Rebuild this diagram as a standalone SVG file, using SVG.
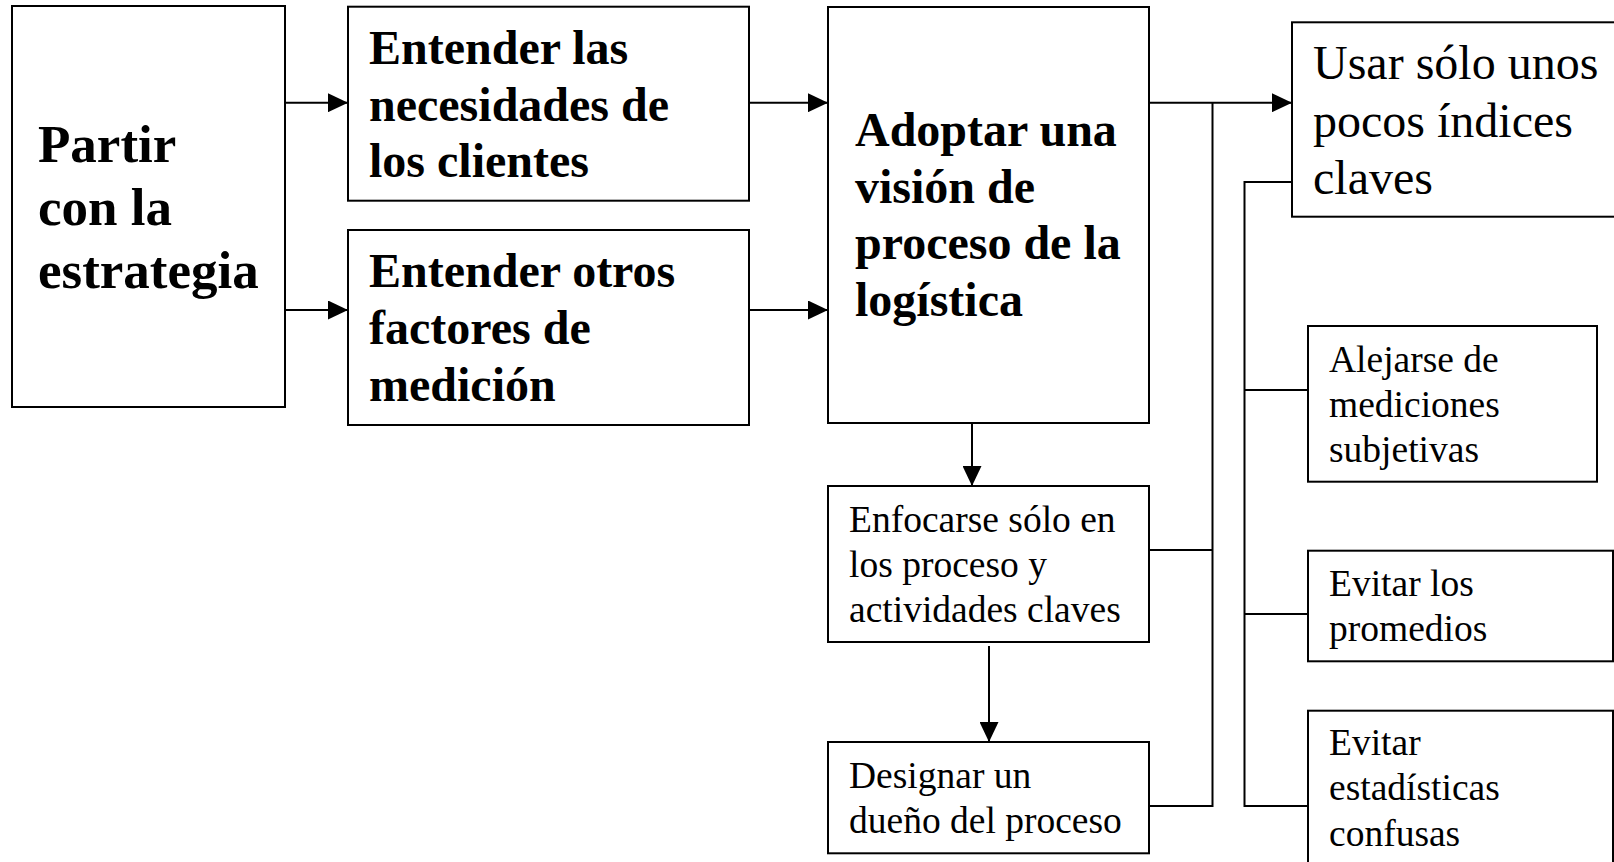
<svg xmlns="http://www.w3.org/2000/svg" width="1614" height="862" viewBox="0 0 1614 862">
<style>
rect.box{fill:#fff;stroke:#000;stroke-width:2}
.c{fill:none;stroke:#000;stroke-width:2}
text{font-family:"Liberation Serif","Times New Roman",serif;fill:#000}
.b52{font-weight:bold;font-size:53px}
.b48{font-weight:bold;font-size:48px}
.r48{font-size:48px}
.r38{font-size:37.5px}
</style>
<defs>
<marker id="ah" markerUnits="userSpaceOnUse" markerWidth="20" markerHeight="19" refX="20" refY="9.5" orient="auto">
<path d="M0,0 L20,9.5 L0,19 z" fill="#000"/>
</marker>
</defs>
<rect width="1614" height="862" fill="#fff"/>
<g id="connectors">
<path class="c" d="M285,102.7 H348" marker-end="url(#ah)"/>
<path class="c" d="M285,310 H348" marker-end="url(#ah)"/>
<path class="c" d="M749,102.7 H828" marker-end="url(#ah)"/>
<path class="c" d="M749,310 H828" marker-end="url(#ah)"/>
<path class="c" d="M1149,102.7 H1292" marker-end="url(#ah)"/>
<path class="c" d="M972,423 V486" marker-end="url(#ah)"/>
<path class="c" d="M989,646 V742" marker-end="url(#ah)"/>
<path class="c" d="M1149,550 H1212.5"/>
<path class="c" d="M1149,806 H1212.5 V102.7"/>
<path class="c" d="M1292,182 H1244.5 V806 H1308"/>
<path class="c" d="M1244.5,390 H1308"/>
<path class="c" d="M1244.5,614 H1308"/>
</g>
<g id="n-partir">
<rect class="box" x="12" y="6" width="273" height="401"/>
<text class="b52" x="38" y="162">Partir</text>
<text class="b52" x="38" y="225">con la</text>
<text class="b52" x="38" y="288">estrategia</text>
</g>
<g id="n-necesidades">
<rect class="box" x="348" y="6.7" width="401" height="194"/>
<text class="b48" x="369" y="64">Entender las</text>
<text class="b48" x="369" y="120.5">necesidades de</text>
<text class="b48" x="369" y="177">los clientes</text>
</g>
<g id="n-factores">
<rect class="box" x="348" y="230" width="401" height="195"/>
<text class="b48" x="369" y="287">Entender otros</text>
<text class="b48" x="369" y="344">factores de</text>
<text class="b48" x="369" y="401">medición</text>
</g>
<g id="n-adoptar">
<rect class="box" x="828" y="7" width="321" height="416"/>
<text class="b48" x="855" y="145.7">Adoptar una</text>
<text class="b48" x="855" y="202.5">visión de</text>
<text class="b48" x="855" y="259.3">proceso de la</text>
<text class="b48" x="855" y="316">logística</text>
</g>
<g id="n-usar">
<rect class="box" x="1292" y="22.3" width="340" height="194.4"/>
<text class="r48" x="1313" y="79">Usar sólo unos</text>
<text class="r48" x="1313" y="136.7">pocos índices</text>
<text class="r48" x="1313" y="194">claves</text>
</g>
<g id="n-enfocarse">
<rect class="box" x="828" y="486" width="321" height="156"/>
<text class="r38" x="849" y="531.7">Enfocarse sólo en</text>
<text class="r38" x="849" y="576.7">los proceso y</text>
<text class="r38" x="849" y="621.7">actividades claves</text>
</g>
<g id="n-designar">
<rect class="box" x="828" y="742" width="321" height="111.3"/>
<text class="r38" x="849" y="788.3">Designar un</text>
<text class="r38" x="849" y="833.3">dueño del proceso</text>
</g>
<g id="n-alejarse">
<rect class="box" x="1308" y="326" width="289" height="155.7"/>
<text class="r38" x="1329" y="372.3">Alejarse de</text>
<text class="r38" x="1329" y="417.3">mediciones</text>
<text class="r38" x="1329" y="462.3">subjetivas</text>
</g>
<g id="n-promedios">
<rect class="box" x="1308" y="550.7" width="305" height="110.6"/>
<text class="r38" x="1329" y="596">Evitar los</text>
<text class="r38" x="1329" y="641">promedios</text>
</g>
<g id="n-estadisticas">
<rect class="box" x="1308" y="710.7" width="305" height="170"/>
<text class="r38" x="1329" y="755">Evitar</text>
<text class="r38" x="1329" y="800">estadísticas</text>
<text class="r38" x="1329" y="846">confusas</text>
</g>
</svg>
